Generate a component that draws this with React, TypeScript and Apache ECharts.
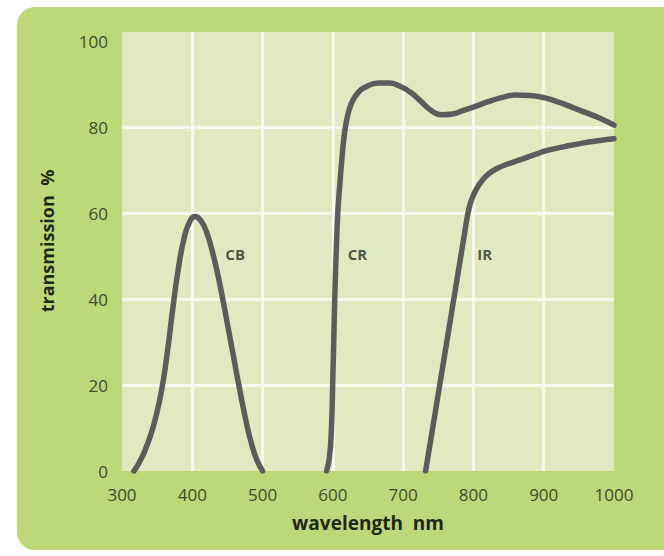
import React, { useEffect, useRef } from "react";
import * as echarts from "echarts";

const xTicks = [300, 400, 500, 600, 700, 800, 900, 1000];
const yTicks = [0, 20, 40, 60, 80, 100];
const yTop = 102.3; // plot area extends a little above the 100 line

const cbCurve: [number, number][] = [
  [317, 0], [324, 1.8], [332, 4.5], [340, 8], [348, 12.5], [356, 18.5], [364, 27],
  [372, 37.5], [380, 47], [388, 54], [396, 58], [404, 59.3], [412, 58.4], [420, 55.8],
  [428, 51.5], [436, 46], [444, 39.5], [452, 32.5], [460, 25.5], [468, 18.5],
  [476, 12], [484, 6.5], [492, 2.5], [500, 0],
];

const crCurve: [number, number][] = [
  [591, 0], [595, 3], [598, 10], [600, 22], [601.5, 32], [603, 42], [605, 52],
  [607, 60], [610, 67], [613, 73], [616, 78], [620, 82], [626, 85.5],
  [635, 88], [648, 89.6], [665, 90.4], [680, 90.4], [695, 89.7], [710, 88.3],
  [725, 86.2], [740, 84], [755, 83], [770, 83.2], [785, 84], [800, 84.8],
  [820, 86], [840, 87], [860, 87.6], [880, 87.5], [900, 87], [920, 86],
  [940, 84.8], [960, 83.5], [980, 82.2], [1000, 80.6],
];

const irCurve: [number, number][] = [
  [732, 0], [737, 5], [742, 10], [747, 15], [752, 20], [757, 25], [762, 30],
  [767, 35], [772, 40], [777, 45], [782, 50], [787, 55], [791, 59], [795, 62],
  [800, 64.3], [806, 66.2], [813, 67.8], [822, 69.3], [835, 70.6], [850, 71.6],
  [866, 72.5], [885, 73.6], [905, 74.7], [930, 75.6], [955, 76.4], [980, 77],
  [1000, 77.4],
];

const curveNames = ["CB", "CR", "IR"];
const curveLabelPos: [number, number][] = [
  [461, 50.6],
  [635, 50.6],
  [816, 50.6],
];

const FONT = "'Open Sans', 'Noto Sans', sans-serif";
const CURVE_COLOR = "#5c5c5c";
const GRID_LINE = "#f6f9ec";

export default function App() {
  const ref = useRef<HTMLDivElement>(null);

  useEffect(() => {
    if (!ref.current) return;
    const chart = echarts.init(ref.current, undefined, { renderer: "svg" });

    const lineSeries = [cbCurve, crCurve, irCurve].map((d, i) => ({
      name: curveNames[i],
      type: "line",
      data: d,
      smooth: 0.5,
      showSymbol: false,
      symbol: "none",
      lineStyle: { color: CURVE_COLOR, width: 5.5, cap: "round", join: "round" },
      z: 3,
    }));

    chart.setOption({
      animation: false,
      backgroundColor: "#ffffff",
      graphic: [
        {
          type: "rect",
          z: -100,
          shape: { x: 17, y: 7, width: 680, height: 543, r: 18 },
          style: { fill: "#bdd878" },
        },
        {
          type: "text",
          z: 10,
          x: 47,
          y: 241,
          rotation: Math.PI / 2,
          style: {
            text: "transmission  %",
            fontFamily: FONT,
            fontWeight: "bold",
            fontSize: 18,
            fill: "#1f2818",
            textAlign: "center",
            textVerticalAlign: "middle",
          },
        },
      ],
      grid: {
        left: 122,
        right: 50,
        top: 32,
        bottom: 85,
        show: true,
        backgroundColor: "#dfeac1",
        borderWidth: 0,
      },
      xAxis: {
        type: "value",
        min: xTicks[0],
        max: xTicks[xTicks.length - 1],
        interval: 100,
        name: "wavelength  nm",
        nameLocation: "middle",
        nameGap: 42,
        nameTextStyle: {
          fontFamily: FONT,
          fontWeight: "bold",
          fontSize: 19,
          color: "#1f2818",
        },
        axisLine: { show: false },
        axisTick: { show: false },
        axisLabel: {
          margin: 15,
          fontFamily: FONT,
          fontSize: 17,
          color: "#3f4a2e",
          formatter: (v: number) => String(v),
        },
        splitLine: {
          show: true,
          showMinLine: false,
          showMaxLine: false,
          lineStyle: { color: GRID_LINE, width: 3 },
        },
      },
      yAxis: {
        type: "value",
        min: yTicks[0],
        max: yTop,
        interval: 20,
        axisLine: { show: false },
        axisTick: { show: false },
        axisLabel: {
          margin: 14,
          fontFamily: FONT,
          fontSize: 17,
          color: "#3f4a2e",
          showMaxLabel: false,
          formatter: (v: number) => (yTicks.indexOf(v) >= 0 ? String(v) : ""),
        },
        splitLine: {
          show: true,
          showMinLine: false,
          showMaxLine: false,
          lineStyle: {
            color: [GRID_LINE, GRID_LINE, GRID_LINE, GRID_LINE, "rgba(0,0,0,0)"],
            width: 3,
          },
        },
      },
      series: [
        ...lineSeries,
        {
          type: "scatter",
          symbolSize: 0,
          data: curveLabelPos.map((p, i) => ({ value: p, name: curveNames[i] })),
          label: {
            show: true,
            position: "inside",
            formatter: "{b}",
            fontFamily: FONT,
            fontWeight: "bold",
            fontSize: 15,
            color: "#26301c",
          },
          z: 4,
        },
      ],
    });

    return () => chart.dispose();
  }, []);

  return (
    <div
      ref={ref}
      style={{ position: "fixed", left: 0, top: 0, width: 664, height: 556 }}
    />
  );
}
